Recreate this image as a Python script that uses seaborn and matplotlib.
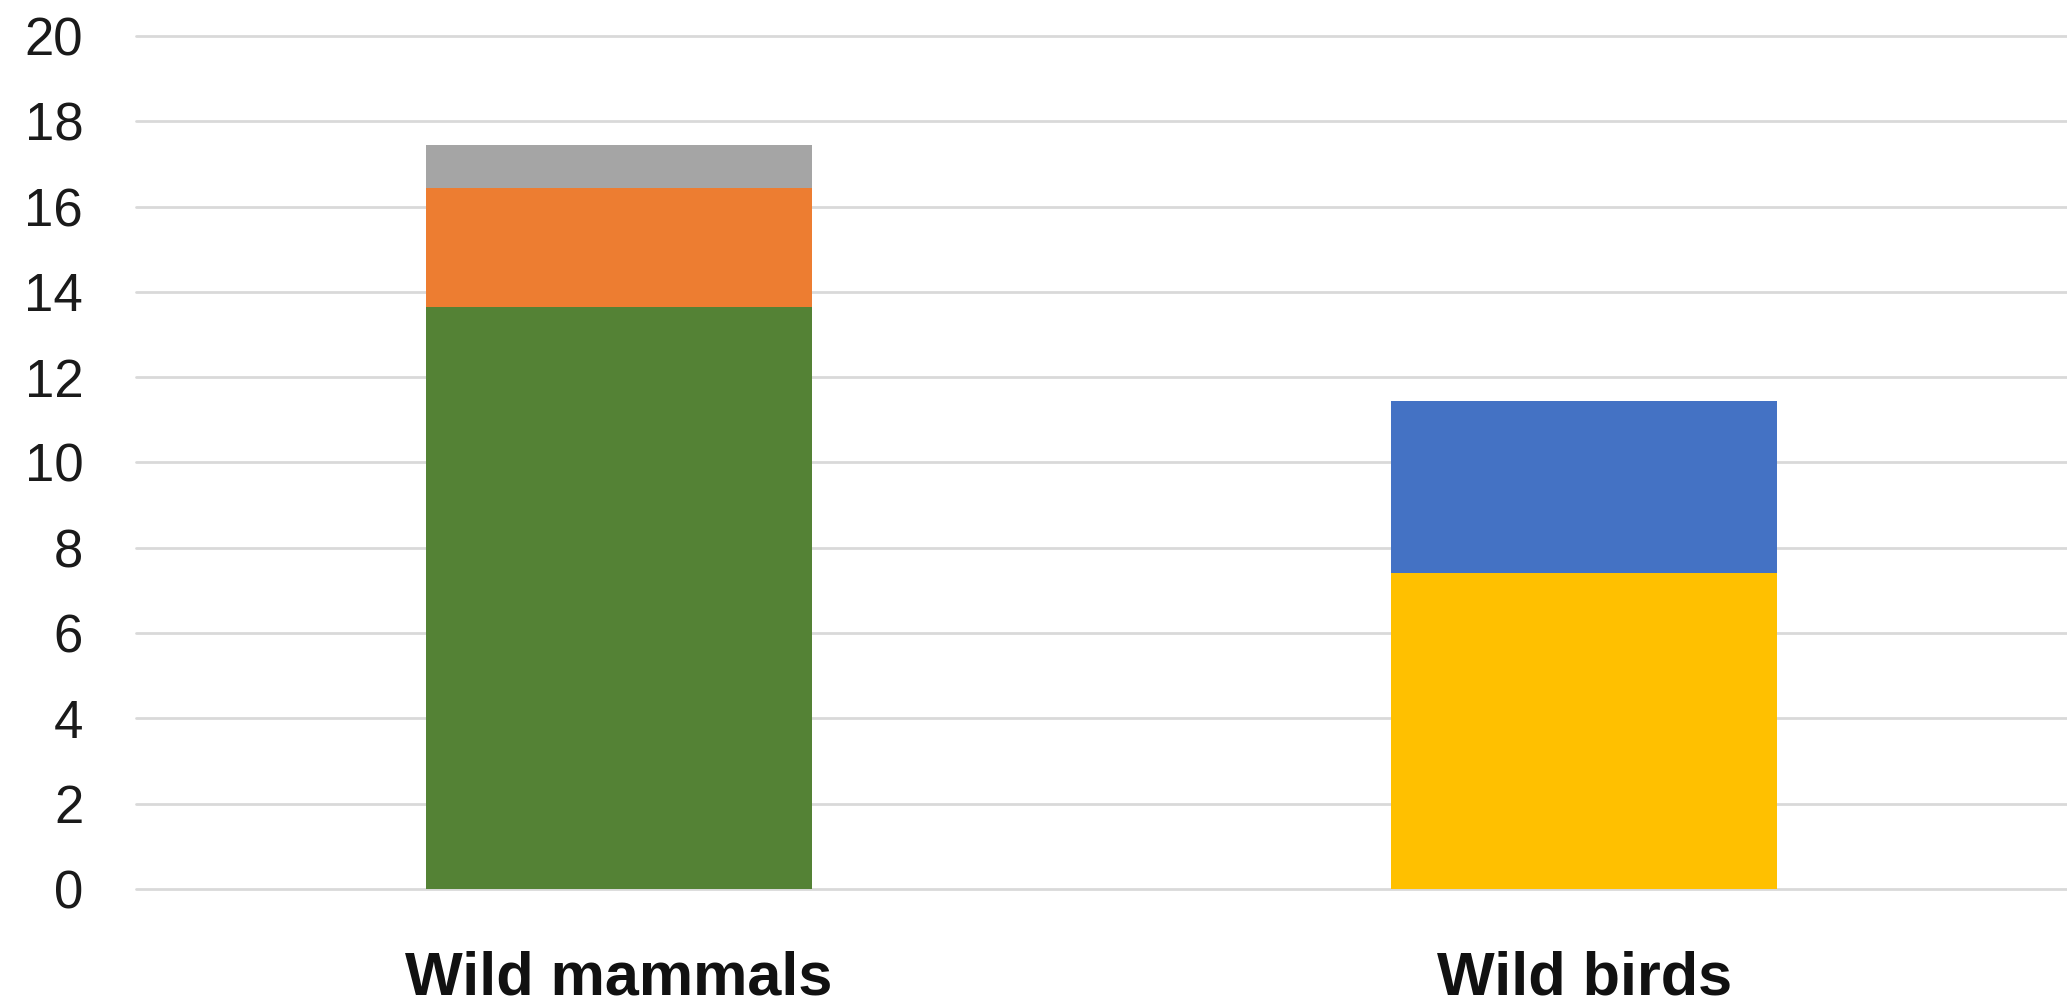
import numpy as np
import pandas as pd
import matplotlib
matplotlib.use("Agg")
import matplotlib.pyplot as plt
import seaborn as sns

categories = ["Wild mammals", "Wild birds"]
# stacked segments, bottom to top
layer_bottom = [13.65, 7.41]
layer_middle = [2.78, 4.04]
layer_top = [1.02, 0.0]
colors_bottom = ["#548235", "#FFC000"]
colors_middle = ["#ED7D31", "#4472C4"]
colors_top = ["#A5A5A5", "#A5A5A5"]
yticks = [0, 2, 4, 6, 8, 10, 12, 14, 16, 18, 20]

sns.set_style("white")
plt.rcParams['font.family'] = ['Liberation Sans', 'DejaVu Sans']

fig = plt.figure(figsize=(20.67, 10.05), dpi=100)
ax = fig.add_axes([136 / 2067, 1 - 889 / 1005, 1 - 136 / 2067, (889 - 36) / 1005])

layers = [layer_bottom, layer_middle, layer_top]
colors = [colors_bottom, colors_middle, colors_top]
cum = np.cumsum(np.array(layers), axis=0)

# draw tallest cumulative first so lower segments sit on top
for i in range(len(layers) - 1, -1, -1):
    df = pd.DataFrame({"cat": categories, "val": cum[i]})
    sns.barplot(data=df, x="cat", y="val", hue="cat", palette=colors[i],
                width=0.4, saturation=1, legend=False, ax=ax, linewidth=0)

ax.set_xlim(-0.5, 1.5)
ax.set_ylim(0, 20)
ax.set_yticks(yticks)
ax.set_yticklabels([str(t) for t in yticks], fontsize=38, color="#1a1a1a")
ax.tick_params(axis="y", length=0, pad=38)
ax.tick_params(axis="x", length=0, pad=44)
for lab in ax.get_xticklabels():
    lab.set_fontsize(44)
    lab.set_fontweight("bold")
    lab.set_color("#111111")
ax.set_xlabel("")
ax.set_ylabel("")
ax.set_axisbelow(True)
ax.yaxis.grid(True, color="#D9D9D9", linewidth=2)
for line in ax.get_ygridlines():
    line.set_clip_on(False)
for s in ax.spines.values():
    s.set_visible(False)

fig.savefig("out.png", dpi=100, facecolor="white")
